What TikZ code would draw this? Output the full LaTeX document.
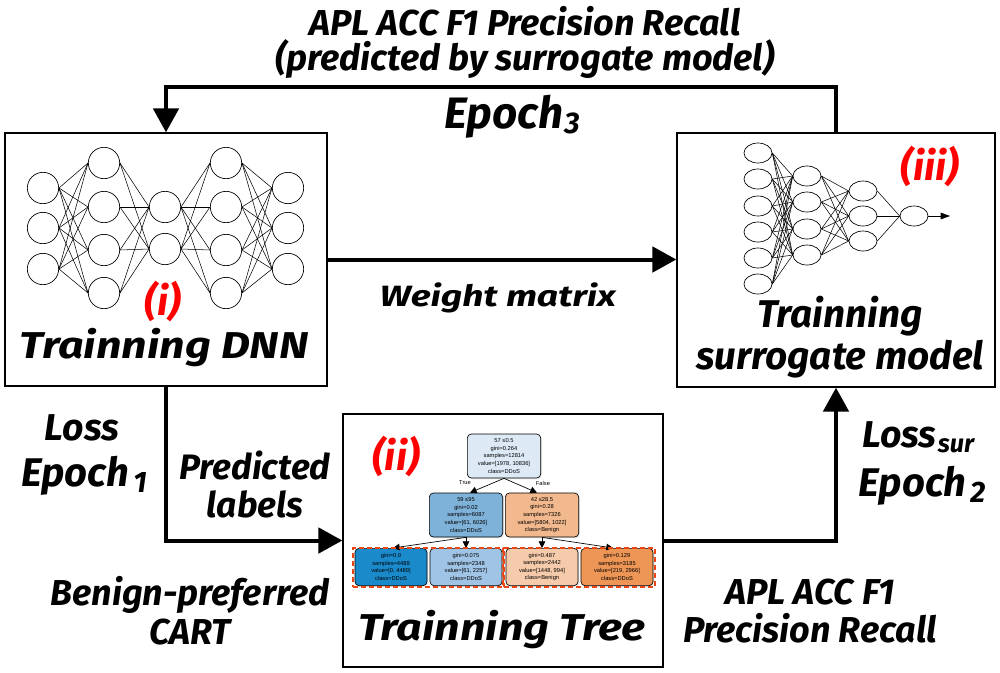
\documentclass[tikz,border=0pt]{standalone}
\usepackage{fontspec}
\setmainfont{Fira Sans}
\newfontfamily\widefam{Fira Sans}[FakeStretch=1.2]
\newfontfamily\midwfam{Fira Sans}[FakeStretch=1.27]
\newfontfamily\treefam{Liberation Sans}
\usetikzlibrary{arrows.meta,fit,shadows,shapes.geometric}
\newcommand{\fbig}{\widefam\fontsize{28}{31}\selectfont\bfseries\itshape}
\newcommand{\fsur}{\fontsize{29}{33}\selectfont\bfseries\itshape}
\newcommand{\fwm}{\midwfam\fontsize{22}{24}\selectfont\bfseries\itshape}
\newcommand{\flab}[1]{\fontsize{#1}{#1}\selectfont\bfseries\itshape}
\newcommand{\fred}{\fontsize{30}{32}\selectfont\bfseries\itshape\color{red}}
\newcommand{\ftree}{\treefam\fontsize{4.3}{5.7}\selectfont}
\newcommand{\lowsub}[1]{\kern1pt\raisebox{-3.5pt}{\scalebox{0.68}{#1}}}
\newcommand{\lowsubb}[1]{\kern3pt\raisebox{-4pt}{\scalebox{0.74}{#1}}}
\begin{document}
\begin{tikzpicture}[x=0.75pt,y=-0.75pt,
  box/.style={draw, line width=1pt, inner sep=0pt},
  conn/.style={line width=3pt, -{Triangle[length=18pt,width=19pt]}},
  neu/.style={draw, circle, minimum size=23.5pt, inner sep=0pt, line width=0.5pt},
  sneu/.style={draw, ellipse, minimum width=21pt, minimum height=15pt, inner sep=0pt, line width=0.5pt},
  wire/.style={line width=0.4pt},
  tnode/.style={draw, rounded corners=3pt, line width=0.5pt, align=center, inner sep=0pt, font=\ftree, drop shadow={opacity=0.15, shadow xshift=1pt, shadow yshift=-1pt}},
  tedge/.style={line width=0.5pt, -{Triangle[length=5pt,width=5pt]}},
  lab/.style={align=center, inner sep=0pt}
]
\useasboundingbox (0,0) rectangle (1000,672);
\fill[white] (0,0) rectangle (1000,672);

% boxes
\node[box, fit={(5,133) (327,386)}] (dnn) {};
\node[box, fit={(677,133) (995,387)}] (surr) {};
\node[box, fit={(343,414) (663,667)}] (tree) {};

% DNN network
\foreach \y [count=\i] in {188,228,269} \node[neu] (a\i) at (43,\y) {};
\foreach \y [count=\i] in {163,207,250,293} \node[neu] (b\i) at (104,\y) {};
\foreach \y [count=\i] in {207,249} \node[neu] (c\i) at (165,\y) {};
\foreach \y [count=\i] in {163,207,250,293} \node[neu] (d\i) at (226,\y) {};
\foreach \y [count=\i] in {188,228,269} \node[neu] (e\i) at (288,\y) {};
\foreach \i in {1,2,3} \foreach \j in {1,...,4} \draw[wire] (a\i.east) -- (b\j.west);
\foreach \i in {1,...,4} \foreach \j in {1,2} \draw[wire] (b\i.east) -- (c\j.west);
\foreach \i in {1,2} \foreach \j in {1,...,4} \draw[wire] (c\i.east) -- (d\j.west);
\foreach \i in {1,...,4} \foreach \j in {1,2,3} \draw[wire] (d\i.east) -- (e\j.west);

% surrogate network
\foreach \y [count=\i] in {153,179,206,232,258,284} \node[sneu] (p\i) at (758,\y) {};
\foreach \y [count=\i] in {176,202,229,255} \node[sneu] (q\i) at (807,\y) {};
\foreach \y [count=\i] in {191,216,241} \node[sneu] (r\i) at (863,\y) {};
\node[sneu] (s1) at (914,216) {};
\coordinate (sout) at (950,216);
\foreach \i in {1,...,6} \foreach \j in {1,...,4} \draw[wire] (p\i.east) -- (q\j.west);
\foreach \i in {1,...,4} \foreach \j in {1,2,3} \draw[wire] (q\i.east) -- (r\j.west);
\foreach \i in {1,2,3} \draw[wire] (r\i.east) -- (s1.west);
\draw[line width=0.5pt, -{Triangle[length=7pt,width=5pt]}] (s1.east) -- (sout);

% tree
\node[tnode, fill={rgb,255:red,221;green,234;blue,246}, minimum width=55pt, minimum height=33pt] (t0) at (504,456) {57 ≤0.5\\gini=0.264\\samples=12814\\value=[1978, 10836]\\class=DDoS};
\node[tnode, fill={rgb,255:red,127;green,178;blue,217}, minimum width=55pt, minimum height=33pt] (t1) at (466,515) {59 ≤95\\gini=0.02\\samples=6087\\value=[61, 6026]\\class=DDoS};
\node[tnode, fill={rgb,255:red,243;green,185;blue,142}, minimum width=55pt, minimum height=33pt] (t2) at (542,515) {42 ≤28.5\\gini=0.28\\samples=7326\\value=[5804, 1022]\\class=Benign};
\node[tnode, fill={rgb,255:red,26;green,138;blue,203}, minimum width=54pt, minimum height=28pt] (t3) at (391,567) {gini=0.0\\samples=4489\\value=[0, 4489]\\class=DDoS};
\node[tnode, fill={rgb,255:red,160;green,196;blue,230}, minimum width=54pt, minimum height=28pt] (t4) at (466,567) {gini=0.075\\samples=2348\\value=[61, 2257]\\class=DDoS};
\node[tnode, fill={rgb,255:red,246;green,203;blue,171}, minimum width=54pt, minimum height=28pt] (t5) at (542,567) {gini=0.487\\samples=2442\\value=[1448, 994]\\class=Benign};
\node[tnode, fill={rgb,255:red,238;green,150;blue,86}, minimum width=54pt, minimum height=28pt] (t6) at (617,567) {gini=0.129\\samples=3185\\value=[219, 2966]\\class=DDoS};
\draw[tedge] (t0.south) -- (t1.north -| 470,0);
\draw[tedge] (t0.south) -- (t2.north -| 537,0);
\draw[tedge] (t1.south) -- (t3.north -| 393,0);
\draw[tedge] (t1.south) -- (t4.north);
\draw[tedge] (t2.south) -- (t5.north);
\draw[tedge] (t2.south) -- (t6.north -| 613,0);
\node[font=\ftree, inner sep=0pt] (tt) at (465,483) {True};
\node[font=\ftree, inner sep=0pt] (tf) at (543,483) {False};
\node[draw={rgb,255:red,235;green,70;blue,20}, dashed, dash pattern=on 4pt off 2pt, line width=0.8pt, fit={(353,548) (503,587)}, inner sep=0pt] (g1) {};
\node[draw={rgb,255:red,235;green,70;blue,20}, dashed, dash pattern=on 4pt off 2pt, line width=0.8pt, fit={(504,548) (655,587)}, inner sep=0pt] (g2) {};

% connectors
\draw[conn] (surr.north) -- ++(0,-45) -| (dnn.north);
\draw[conn] (dnn.east) -- (surr.west |- dnn.east);
\draw[conn] (dnn.south) |- (tree.west);
\draw[conn] (tree.east) -| (surr.south);

% labels
\node[lab, font=\flab{27}] (top1) at (525,21) {APL ACC F1 Precision Recall};
\node[lab, font=\flab{27}] (top2) at (525,59) {(predicted by surrogate model)};
\node[lab, font=\flab{33}] (ep3) at (512,117) {Epoch\lowsub{3}};
\node[lab, font=\fwm] (wm) at (498,298) {Weight matrix};
\node[lab, font=\fred] (ri) at (163,301) {(i)};
\node[lab, font=\fbig] (tdnn) at (164,348) {Trainning DNN};
\node[lab, font=\fred] (rii) at (396,456) {(ii)};
\node[lab, font=\fred] (riii) at (930,166) {(iii)};
\node[lab, font=\fsur, align=center] (tsur) at (840,337) {Trainning\\[-2pt]surrogate model};
\node[lab, font=\fbig] (ttree) at (502,630) {Trainning Tree};
\node[lab, font=\flab{28}] (loss) at (82,428) {Loss};
\node[lab, font=\flab{30}] (ep1) at (84,476) {Epoch\lowsubb{1}};
\node[lab, font=\flab{26.5}] (pl) at (255,484) {Predicted\\[2pt]labels};
\node[lab, font=\flab{27}] (cart) at (190,611) {Benign-preferred\\[2pt]CART};
\node[lab, font=\flab{28}] (lsur) at (918,437) {Loss\lowsub{sur}};
\node[lab, font=\flab{30}] (ep2) at (922,486) {Epoch\lowsubb{2}};
\node[lab, font=\flab{27}] (apl2) at (810,611) {APL ACC F1\\[2pt]Precision Recall};
\end{tikzpicture}
\end{document}
